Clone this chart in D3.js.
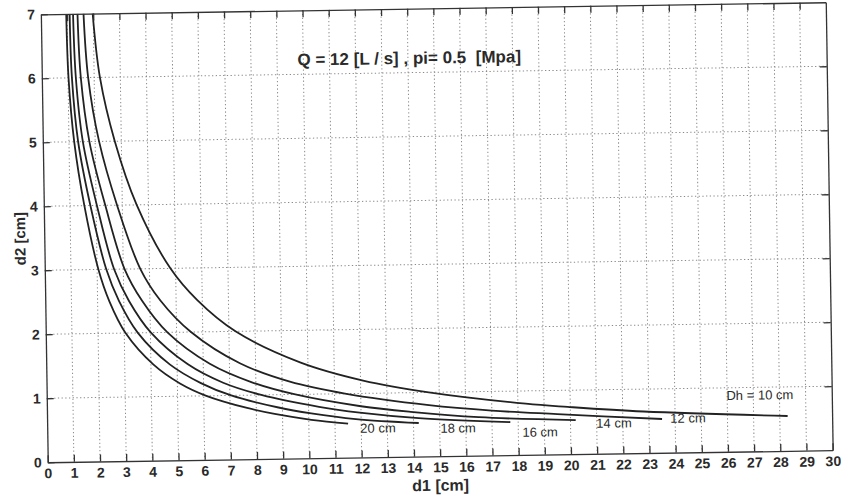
<!DOCTYPE html>
<html><head><meta charset="utf-8">
<script src="https://cdn.jsdelivr.net/npm/d3@7"></script>
<style>
html,body{margin:0;padding:0;background:#fff;}
svg{display:block;}
text{font-family:"Liberation Sans",Arial,sans-serif;fill:#2a2a2a;}
</style></head>
<body><svg id="chart" width="841" height="502"></svg>
<script>
// ---------- data ----------
const xTickLabels = [0,1,2,3,4,5,6,7,8,9,10,11,12,13,14,15,16,17,18,19,20,21,22,23,24,25,26,27,28,29,30];
const yTickLabels = [0,1,2,3,4,5,6,7];

const dhNames = ["Dh = 10 cm","12 cm","14 cm","16 cm","18 cm","20 cm"];

const dh10_d1 = [1.98, 2.22, 2.75, 3.55, 4.8, 5.8, 7.25, 9.7, 12.1, 14.6, 18.3, 19.9, 22.8, 28.3];
const dh10_d2 = [7, 6, 5, 4, 3, 2.5, 2, 1.5, 1.2, 1, 0.8, 0.74, 0.65, 0.545];

const dh12_d1 = [1.63, 1.77, 2.15, 2.8, 3.65, 4.4, 5.55, 7.4, 9.3, 11.4, 14.6, 17.0, 19.5, 23.5];
const dh12_d2 = [7, 6, 5, 4, 3, 2.5, 2, 1.5, 1.2, 1, 0.8, 0.7, 0.63, 0.528];

const dh14_d1 = [1.40, 1.49, 1.78, 2.35, 3.05, 3.7, 4.65, 6.25, 7.85, 9.5, 12.0, 13.9, 16.5, 20.2];
const dh14_d2 = [7, 6, 5, 4, 3, 2.5, 2, 1.5, 1.2, 1, 0.8, 0.7, 0.6, 0.533];

const dh16_d1 = [1.23, 1.30, 1.53, 2.03, 2.65, 3.2, 4.02, 5.4, 6.75, 8.2, 10.4, 11.95, 14.2, 17.7];
const dh16_d2 = [7, 6, 5, 4, 3, 2.5, 2, 1.5, 1.2, 1, 0.8, 0.7, 0.6, 0.517];

const dh18_d1 = [1.10, 1.15, 1.35, 1.78, 2.35, 2.82, 3.52, 4.72, 5.9, 7.05, 8.85, 10.1, 11.8, 14.2];
const dh18_d2 = [7, 6, 5, 4, 3, 2.5, 2, 1.5, 1.2, 1, 0.8, 0.7, 0.6, 0.524];

const dh20_d1 = [0.97, 1.02, 1.2, 1.55, 2.05, 2.45, 3.05, 4.1, 5.1, 6.1, 7.65, 8.7, 10.1, 11.5];
const dh20_d2 = [7, 6, 5, 4, 3, 2.5, 2, 1.5, 1.2, 1, 0.8, 0.7, 0.6, 0.53];

// curve label anchors (data units)
const labelD1 = [27.25, 24.49, 21.66, 18.83, 15.70, 12.64];
const labelD2 = [0.879, 0.537, 0.477, 0.354, 0.437, 0.455];

const titleText = "Q = 12 [L / s] , pi= 0.5  [Mpa]";
const xLabel = "d1 [cm]";
const yLabel = "d2 [cm]";

// ---------- layout ----------
const L = 44.25, T = 8.25, PW = 785, PH = 448;
const series = [
  [dh10_d1, dh10_d2],[dh12_d1, dh12_d2],[dh14_d1, dh14_d2],
  [dh16_d1, dh16_d2],[dh18_d1, dh18_d2],[dh20_d1, dh20_d2]
].map(([a,b]) => a.map((v,i)=>({d1:v, d2:b[i]})));

const svg = d3.select("#chart");
svg.append("rect").attr("width",841).attr("height",502).attr("fill","#fff");
const g = svg.append("g").attr("transform", `rotate(-0.88, ${L+PW/2}, ${T+PH/2})`);

const x = d3.scaleLinear().domain([0,30]).range([L, L+PW]);
const y = d3.scaleLinear().domain([0,7]).range([T+PH, T]);

// grid
const grid = g.append("g").attr("stroke","#8a8a8a").attr("stroke-width",1).attr("stroke-dasharray","1.3,2.4");
grid.selectAll("line.v").data(xTickLabels.slice(1,-1)).join("line")
  .attr("x1",d=>x(d)).attr("x2",d=>x(d)).attr("y1",T).attr("y2",T+PH);
grid.selectAll("line.h").data(yTickLabels.slice(1,-1)).join("line")
  .attr("y1",d=>y(d)).attr("y2",d=>y(d)).attr("x1",L).attr("x2",L+PW);

// clip
svg.append("defs").append("clipPath").attr("id","clip").append("rect")
  .attr("x",L).attr("y",T).attr("width",PW).attr("height",PH);

// curves
const line = d3.line().x(d=>x(d.d1)).y(d=>y(d.d2)).curve(d3.curveCatmullRom.alpha(0.5));
g.append("g").attr("clip-path","url(#clip)").selectAll("path").data(series).join("path")
  .attr("d", line).attr("fill","none").attr("stroke","#222").attr("stroke-width",1.8);

// axes
function styleAxis(sel){
  sel.selectAll("path.domain").attr("stroke","#333").attr("stroke-width",1.3);
  sel.selectAll(".tick line").attr("stroke","#333").attr("stroke-width",1.3);
  sel.selectAll(".tick text").attr("font-size",14).attr("font-weight","bold")
    .attr("fill","#2a2a2a").attr("font-family","Liberation Sans, Arial, sans-serif");
}
g.append("g").attr("transform",`translate(0,${T+PH})`)
  .call(d3.axisBottom(x).tickValues(xTickLabels).tickFormat(d3.format("d")).tickSize(-7).tickSizeOuter(0).tickPadding(6))
  .call(styleAxis);
g.append("g").attr("transform",`translate(${L},0)`)
  .call(d3.axisLeft(y).tickValues(yTickLabels).tickFormat(d3.format("d")).tickSize(-7).tickSizeOuter(0).tickPadding(6))
  .call(styleAxis);
g.append("g").attr("transform",`translate(0,${T})`)
  .call(d3.axisTop(x).tickValues(xTickLabels.slice(1,-1)).tickFormat("").tickSize(-7).tickSizeOuter(0))
  .call(styleAxis);
g.append("g").attr("transform",`translate(${L+PW},0)`)
  .call(d3.axisRight(y).tickValues(yTickLabels.slice(1,-1)).tickFormat("").tickSize(-7).tickSizeOuter(0))
  .call(styleAxis);

// curve labels
g.append("g").selectAll("text").data(dhNames).join("text")
  .attr("x",(d,i)=>x(labelD1[i])).attr("y",(d,i)=>y(labelD2[i]))
  .attr("text-anchor","middle").attr("dy","0.35em")
  .attr("font-size",13).attr("fill","#1a1a1a").text(d=>d);

// title
g.append("text").attr("x",x(14.05)).attr("y",y(6.23)).attr("dy","0.35em")
  .attr("text-anchor","middle").attr("font-size",17).attr("font-weight","bold")
  .style("white-space","pre").text(titleText);

// axis labels
g.append("text").attr("x",L+PW/2).attr("y",T+PH+29).attr("dy","0.35em")
  .attr("text-anchor","middle").attr("font-size",16).attr("font-weight","bold").text(xLabel);
g.append("text").attr("transform",`translate(20,${T+PH/2}) rotate(-90)`).attr("dy","0.35em")
  .attr("text-anchor","middle").attr("font-size",15).attr("font-weight","bold").text(yLabel);
</script></body></html>
